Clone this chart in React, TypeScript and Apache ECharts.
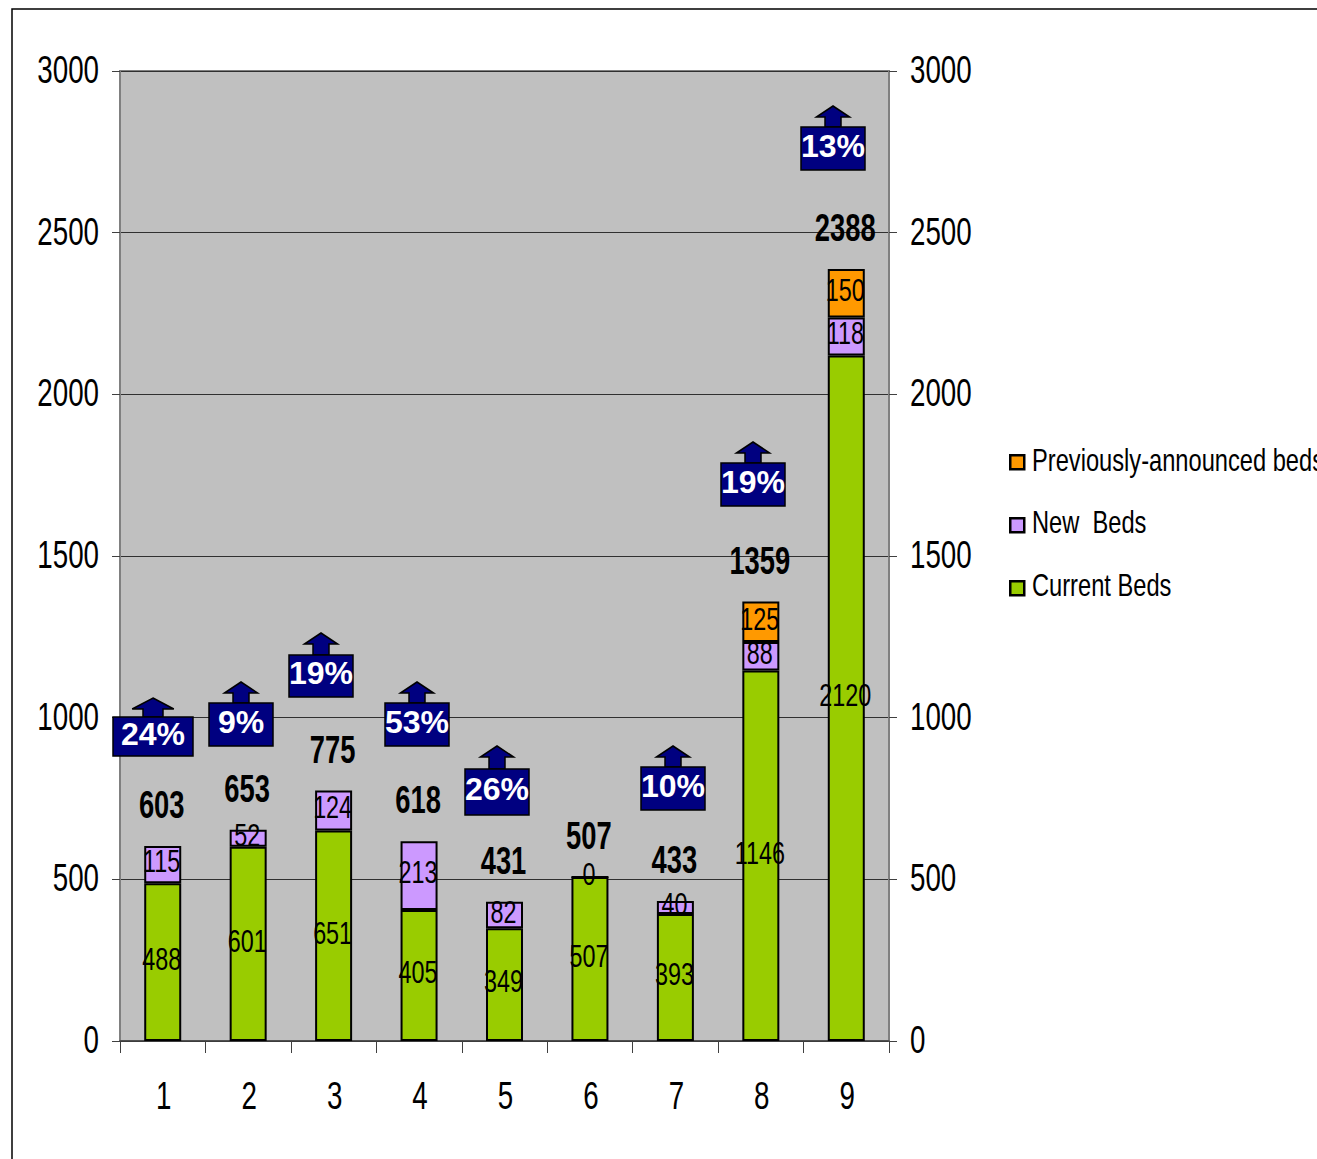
import React, { useEffect, useRef } from "react";
import * as echarts from "echarts";

const categories = ["1", "2", "3", "4", "5", "6", "7", "8", "9"];
const currentBeds = [488, 601, 651, 405, 349, 507, 393, 1146, 2120];
const newBeds = [115, 52, 124, 213, 82, 0, 40, 88, 118];
const announcedBeds = [null, null, null, null, null, null, null, 125, 150];
const totals = [603, 653, 775, 618, 431, 507, 433, 1359, 2388];
const increases = ["24%", "9%", "19%", "53%", "26%", "10%", "19%", "13%"];
const valueTicks = [0, 500, 1000, 1500, 2000, 2500, 3000];
const legendNames = ["Previously-announced beds", "New  Beds", "Current Beds"];

// Callout geometry in page pixels: box left, top, right, bottom, arrow tip y
const calloutBoxes = [
  [113, 717, 193, 756, 698],
  [209, 703, 273, 746, 682],
  [289, 655, 353, 697, 633],
  [385, 703, 449, 746, 682],
  [465, 769, 529, 815, 746],
  [641, 767, 705, 810, 746],
  [721, 463, 785, 506, 442],
  [801, 127, 865, 170, 106],
];

const FONT = "'Liberation Sans', Arial, sans-serif";
const NAVY = "#000080";

function callout(box: number[], text: string) {
  const [l, t, r, b, tip] = box;
  const cx = (l + r) / 2;
  const w = r - l;
  const headBottom = tip + 11;
  const shaft = w * 0.125;
  const head = w * 0.26;
  return [
    {
      type: "polygon",
      z: 20,
      shape: {
        points: [
          [cx, tip],
          [cx + head, headBottom],
          [cx + shaft, headBottom],
          [cx + shaft, t],
          [cx - shaft, t],
          [cx - shaft, headBottom],
          [cx - head, headBottom],
        ],
      },
      style: { fill: NAVY, stroke: "#000", lineWidth: 1.5 },
    },
    {
      type: "rect",
      z: 20,
      shape: { x: l, y: t, width: r - l, height: b - t },
      style: { fill: NAVY, stroke: "#000", lineWidth: 1.5 },
    },
    {
      type: "text",
      z: 21,
      x: cx,
      y: (t + b) / 2 - 3,
      style: {
        text,
        fill: "#fff",
        font: `bold 32px ${FONT}`,
        align: "center",
        verticalAlign: "middle",
      },
    },
  ];
}

// A condensed text element, squeezed horizontally about its anchor
function condensed(text: string, x: number, y: number, font: string, scaleX: number, align = "center") {
  return {
    type: "text",
    x,
    y,
    scaleX,
    style: { text, font, fill: "#000", align, verticalAlign: "middle" },
  };
}

type Row = { index: number; value: number; text: string };

// A custom series placing condensed texts through the chart's own scales
function textSeries(rows: Row[], font: string, scaleX: number, place: (p: number[]) => number[], align = "center") {
  return {
    type: "custom",
    coordinateSystem: "cartesian2d",
    silent: true,
    z: 10,
    data: rows.map((r) => [r.index, r.value]),
    renderItem: (params: any, api: any) => {
      const [x, y] = place(api.coord([api.value(0), api.value(1)]));
      return condensed(rows[params.dataIndex].text, x, y, font, scaleX, align);
    },
  };
}

const AXIS_FONT = `38px ${FONT}`;
const AXIS_SCALE = 0.73;

const tickRows: Row[] = valueTicks.map((v) => ({ index: 0, value: v, text: String(v) }));
const categoryRows: Row[] = categories.map((c, i) => ({ index: i, value: 0, text: c }));
const totalRows: Row[] = totals.map((v, i) => ({ index: i, value: v, text: String(v) }));

// Segment labels sit at the middle of each stacked segment
const segmentRows: Row[] = categories.flatMap((_, i) => {
  const rows: Row[] = [];
  let base = 0;
  for (const values of [currentBeds, newBeds, announcedBeds]) {
    const v = values[i];
    if (v === null) continue;
    rows.push({ index: i, value: base + v / 2, text: String(v) });
    base += v;
  }
  return rows;
});

const barStyle = (color: string) => ({
  color,
  borderColor: "#000",
  borderWidth: 2,
});

const valueAxis = {
  type: "value" as const,
  min: 0,
  max: 3000,
  interval: 500,
  axisLine: { show: true, lineStyle: { color: "#808080", width: 2 } },
  axisTick: { show: true, length: 8, lineStyle: { color: "#404040", width: 1 } },
  axisLabel: { show: false },
};

export default function App() {
  const ref = useRef<HTMLDivElement>(null);

  useEffect(() => {
    document.body.style.margin = "0";
    const chart = echarts.init(ref.current!, undefined, { renderer: "svg" });
    chart.setOption({
      animation: false,
      backgroundColor: "#fff",
      grid: {
        left: 120,
        top: 71,
        width: 769,
        height: 970,
        show: true,
        backgroundColor: "#C0C0C0",
        borderColor: "#808080",
        borderWidth: 2,
      },
      legend: {
        orient: "vertical",
        left: 1009,
        top: 454,
        icon: "rect",
        itemWidth: 14,
        itemHeight: 14,
        itemGap: 46.5,
        padding: 0,
        data: legendNames,
        selectedMode: false,
        formatter: () => " ",
        textStyle: { fontSize: 1 },
        itemStyle: { borderColor: "#000", borderWidth: 2.5 },
      },
      xAxis: {
        type: "category",
        data: categories,
        axisLine: { show: true, lineStyle: { color: "#404040", width: 1.5 } },
        axisTick: { show: true, length: 12, alignWithLabel: false, lineStyle: { color: "#404040", width: 1 } },
        axisLabel: { show: false },
      },
      yAxis: [
        {
          ...valueAxis,
          position: "left",
          splitLine: { show: true, lineStyle: { color: "#303030", width: 1 } },
        },
        { ...valueAxis, position: "right", splitLine: { show: false } },
      ],
      series: [
        {
          name: "Current Beds",
          type: "bar",
          stack: "beds",
          barWidth: 37,
          data: currentBeds,
          itemStyle: barStyle("#99CC00"),
        },
        {
          name: "New  Beds",
          type: "bar",
          stack: "beds",
          data: newBeds,
          itemStyle: barStyle("#CC99FF"),
        },
        {
          name: "Previously-announced beds",
          type: "bar",
          stack: "beds",
          data: announcedBeds,
          itemStyle: barStyle("#FF9900"),
        },
        textSeries(segmentRows, `32px ${FONT}`, 0.73, ([x, y]) => [x - 1, y - 3]),
        textSeries(totalRows, `bold 38px ${FONT}`, 0.72, ([x, y]) => [x - 1, y - 41]),
        textSeries(tickRows, AXIS_FONT, AXIS_SCALE, ([, y]) => [99, y - 1], "right"),
        textSeries(tickRows, AXIS_FONT, AXIS_SCALE, ([, y]) => [910, y - 1], "left"),
        textSeries(categoryRows, AXIS_FONT, AXIS_SCALE, ([x]) => [x + 1, 1096]),
      ],
      graphic: [
        {
          type: "polyline",
          z: 30,
          shape: { points: [[12, 1159], [12, 9], [1317, 9]] },
          style: { fill: "none", stroke: "#000", lineWidth: 1.5 },
        },
        ...legendNames.map((name, i) =>
          condensed(name, 1032, 460 + i * 62.5, `32px ${FONT}`, 0.74, "left"),
        ),
        ...calloutBoxes.flatMap((box, i) => callout(box, increases[i])),
      ],
    });
    return () => chart.dispose();
  }, []);

  return <div ref={ref} style={{ width: 1317, height: 1159, overflow: "hidden" }} />;
}
